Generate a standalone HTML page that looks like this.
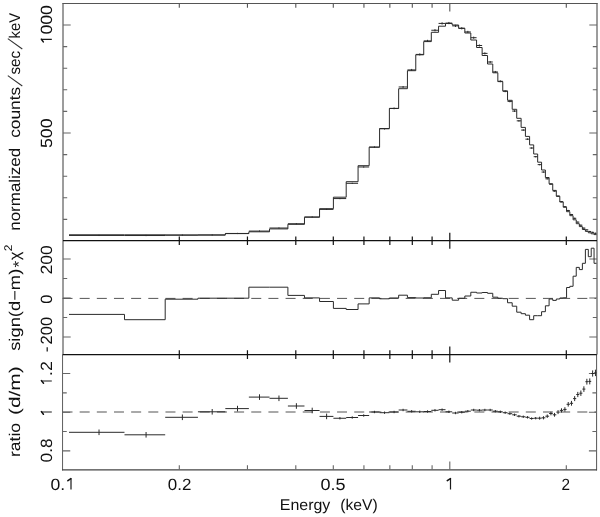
<!DOCTYPE html><html><head><meta charset="utf-8"><style>html,body{margin:0;padding:0;background:#fff;}svg{display:block;will-change:transform;}text{font-family:"Liberation Sans",sans-serif;fill:#111;text-rendering:geometricPrecision;}</style></head><body>
<svg width="600" height="517" viewBox="0 0 600 517">
<rect width="600" height="517" fill="#fff"/>
<path d="M63 3 V354.6" stroke="#3a3a3a" stroke-width="1" fill="none"/>
<path d="M62.55 354.6 V470.4" stroke="#5e5e5e" stroke-width="1" fill="none"/>
<path d="M597 3 V354.6" stroke="#3a3a3a" stroke-width="1" fill="none"/>
<path d="M596.6 354.6 V470.4" stroke="#555" stroke-width="1" fill="none"/>
<path d="M62.5 3.5 H597.5" stroke="#555" stroke-width="1.1" fill="none"/>
<path d="M62 469.9 H597" stroke="#444" stroke-width="1.3" fill="none"/>
<g stroke="#111" stroke-width="1.2"><path d="M63 240.7 H597 M62.6 354.6 H596.8"/></g>
<path d="M179.3 3.5 V7.8 M247.45 3.5 V7.8 M295.8 3.5 V7.8 M333.3 3.5 V7.8 M363.94 3.5 V7.8 M389.85 3.5 V7.8 M412.3 3.5 V7.8 M432.09 3.5 V7.8 M449.8 3.5 V11.5 M566.3 3.5 V7.8 " stroke="#555" stroke-width="1.1" fill="none"/>
<path d="M179.3 240.7 V236.4 M247.45 240.7 V236.4 M295.8 240.7 V236.4 M333.3 240.7 V236.4 M363.94 240.7 V236.4 M389.85 240.7 V236.4 M412.3 240.7 V236.4 M432.09 240.7 V236.4 M449.8 240.7 V232.7 M566.3 240.7 V236.4 " stroke="#111" stroke-width="1.2" fill="none"/>
<path d="M179.3 240.7 V245 M247.45 240.7 V245 M295.8 240.7 V245 M333.3 240.7 V245 M363.94 240.7 V245 M389.85 240.7 V245 M412.3 240.7 V245 M432.09 240.7 V245 M449.8 240.7 V248.7 M566.3 240.7 V245 " stroke="#111" stroke-width="1.2" fill="none"/>
<path d="M179.3 354.6 V350.3 M247.45 354.6 V350.3 M295.8 354.6 V350.3 M333.3 354.6 V350.3 M363.94 354.6 V350.3 M389.85 354.6 V350.3 M412.3 354.6 V350.3 M432.09 354.6 V350.3 M449.8 354.6 V346.6 M566.3 354.6 V350.3 " stroke="#111" stroke-width="1.2" fill="none"/>
<path d="M179.3 354.6 V358.9 M247.45 354.6 V358.9 M295.8 354.6 V358.9 M333.3 354.6 V358.9 M363.94 354.6 V358.9 M389.85 354.6 V358.9 M412.3 354.6 V358.9 M432.09 354.6 V358.9 M449.8 354.6 V362.6 M566.3 354.6 V358.9 " stroke="#111" stroke-width="1.2" fill="none"/>
<path d="M179.3 469.5 V465.2 M247.45 469.5 V465.2 M295.8 469.5 V465.2 M333.3 469.5 V465.2 M363.94 469.5 V465.2 M389.85 469.5 V465.2 M412.3 469.5 V465.2 M432.09 469.5 V465.2 M449.8 469.5 V461.5 M566.3 469.5 V465.2 " stroke="#666" stroke-width="1.1" fill="none"/>
<path d="M63 133 h7.7 M597 133 h-7.7 M63 25 h7.7 M597 25 h-7.7 M63 219.4 h4.2 M597 219.4 h-4.2 M63 197.8 h4.2 M597 197.8 h-4.2 M63 176.2 h4.2 M597 176.2 h-4.2 M63 154.6 h4.2 M597 154.6 h-4.2 M63 111.4 h4.2 M597 111.4 h-4.2 M63 89.8 h4.2 M597 89.8 h-4.2 M63 68.2 h4.2 M597 68.2 h-4.2 M63 46.6 h4.2 M597 46.6 h-4.2 " stroke="#666" stroke-width="1.1" fill="none"/>
<path d="M63 259 h7.7 M597 259 h-7.7 M63 298 h7.7 M597 298 h-7.7 M63 337 h7.7 M597 337 h-7.7 M63 278.5 h4.2 M597 278.5 h-4.2 M63 317.5 h4.2 M597 317.5 h-4.2 " stroke="#666" stroke-width="1.1" fill="none"/>
<path d="M62.55 373.5 h7.7 M596.6 373.5 h-7.7 M62.55 412.2 h7.7 M596.6 412.2 h-7.7 M62.55 450.9 h7.7 M596.6 450.9 h-7.7 M62.55 392.85 h4.2 M596.6 392.85 h-4.2 M62.55 431.55 h4.2 M596.6 431.55 h-4.2 " stroke="#666" stroke-width="1.1" fill="none"/>
<path d="M62.5 298.4 H596" stroke="#555" stroke-width="1.0" stroke-dasharray="10 7.16" fill="none"/>
<path d="M62.5 412.0 H596" stroke="#555" stroke-width="1.2" stroke-dasharray="10 7.16" fill="none"/>
<path d="M69 234.8 H124.49 V234.8 H165.19 V235 H197.93 V235 H225.32 V233.6 H248.87 V231.8 H269.52 V228.9 H287.9 V224.3 H304.48 V217.2 H319.56 V208.7 H333.4 V197.2 H346.19 V181.7 H358.07 V165.7 H369.17 V147.2 H379.58 V128.5 H389.38 V108.5 H398.65 V88.7 H407.43 V70.7 H415.77 V54.8 H423.72 V41.6 H431.31 V32.3 H438.57 V26.2 H445.53 V23.5 H452.21 V25 H458.64 V28.3 H464.83 V33 H470.8 V40 H476.57 V47.5 H482.14 V55.5 H487.54 V64 H492.77 V72.8 H497.84 V81.6 H502.76 V90.9 H507.54 V100.3 H512.19 V109.3 H516.72 V118.3 H521.12 V127.4 H525.42 V136.4 H529.6 V144.9 H533.69 V154 H537.67 V162.2 H541.57 V170 H545.38 V177.5 H549.1 V183.8 H552.74 V190.4 H556.31 V196.2 H559.8 V202 H563.22 V207.2 H566.57 V211.7 H569.85 V215.7 H573.08 V219.8 H576.24 V223.7 H579.34 V226.6 H582.39 V229.5 H585.38 V231.4 H588.32 V232.8 H591.21 V233.8 H594.06 V234.6 H596.5" stroke="#2a2a2a" stroke-width="1.0" fill="none"/>
<path d="M69 235.44 H124.49 M99.03 234.84 V236.04 M124.49 235.52 H165.19 M146.07 234.92 V236.12 M165.19 235.16 H197.93 M182.36 234.56 V235.76 M197.93 234.99 H225.32 M212.19 234.39 V235.59 M225.32 233.46 H248.87 M237.51 232.86 V234.06 M248.87 231.08 H269.52 M259.51 230.48 V231.68 M269.52 228.03 H287.9 M278.96 227.43 V228.63 M287.9 223.76 H304.48 M296.39 223.16 V224.36 M304.48 216.99 H319.56 M312.19 216.39 V217.59 M319.56 209.4 H333.4 M326.62 208.8 V210 M333.4 198.57 H346.19 M339.92 197.97 V199.17 M346.19 183.32 H358.07 M352.24 182.72 V183.92 M358.07 166.98 H369.17 M363.71 166.33 V167.64 M369.17 147.1 H379.58 M374.46 146.37 V147.83 M379.58 128.79 H389.38 M384.55 127.99 V129.59 M389.38 108.36 H398.65 M394.08 107.5 V109.23 M398.65 86.97 H407.43 M403.09 86.04 V87.9 M407.43 69.91 H415.77 M411.65 68.93 V70.89 M415.77 54.42 H423.72 M419.79 53.39 V55.44 M423.72 40.88 H431.31 M427.55 39.82 V41.94 M431.31 30.25 H438.57 M434.98 29.16 V31.34 M438.57 23.42 H445.53 M442.08 22.32 V24.53 M445.53 23.05 H452.21 M448.9 21.94 V24.16 M452.21 25.89 H458.64 M455.46 24.79 V27 M458.64 28.3 H464.83 M461.76 27.2 V29.4 M464.83 31.93 H470.8 M467.84 30.84 V33.01 M470.8 37.71 H476.57 M473.71 36.65 V38.78 M476.57 45.5 H482.14 M479.38 44.45 V46.55 M482.14 53.39 H487.54 M484.86 52.37 V54.42 M487.54 61.99 H492.77 M490.17 60.99 V62.99 M492.77 71.93 H497.84 M495.32 70.95 V72.91 M497.84 81.27 H502.76 M500.32 80.32 V82.22 M502.76 91.29 H507.54 M505.17 90.37 V92.21 M507.54 101.39 H512.19 M509.88 100.5 V102.28 M512.19 111.07 H516.72 M514.47 110.21 V111.93 M516.72 120.84 H521.12 M518.93 120 V121.67 M521.12 130.07 H525.42 M523.28 129.27 V130.87 M525.42 139.16 H529.6 M527.52 138.39 V139.93 M529.6 148.03 H533.69 M531.66 147.29 V148.77 M533.69 156.7 H537.67 M535.69 156 V157.4 M537.67 164.64 H541.57 M539.63 163.97 V165.31 M541.57 172.05 H545.38 M543.48 171.42 V172.69 M545.38 178.81 H549.1 M547.25 178.21 V179.41 M549.1 184.18 H552.74 M550.93 183.58 V184.78 M552.74 191.08 H556.31 M554.53 190.48 V191.68 M556.31 196.18 H559.8 M558.06 195.58 V196.78 M559.8 201.64 H563.22 M561.51 201.04 V202.24 M563.22 206.71 H566.57 M564.9 206.11 V207.31 M566.57 210.5 H569.85 M568.22 209.9 V211.1 M569.85 214.54 H573.08 M571.47 213.94 V215.14 M573.08 218.31 H576.24 M574.66 217.71 V218.91 M576.24 222.12 H579.34 M577.8 221.52 V222.72 M579.34 225.19 H582.39 M580.87 224.59 V225.79 M582.39 228.13 H585.38 M583.89 227.53 V228.73 M585.38 229.89 H588.32 M586.86 229.29 V230.49 M588.32 231.49 H591.21 M589.78 230.89 V232.09 M591.21 232.36 H594.06 M592.64 231.76 V232.96 M594.06 233.3 H596.5 M595.46 232.7 V233.9 " stroke="#2a2a2a" stroke-width="1" fill="none"/>
<path d="M69 314.4 H124.49 V319.7 H165.19 V299.2 H197.93 V298.2 H225.32 V298.2 H248.87 V287.2 H269.52 V287.2 H287.9 V295.4 H304.48 V297.9 H319.56 V301.5 H333.4 V308.4 H346.19 V309.5 H358.07 V303.9 H369.17 V297.9 H379.58 V298.8 H389.38 V298 H398.65 V295.2 H407.43 V297.6 H415.77 V298 H423.72 V297.75 H431.31 V294.3 H438.57 V290.5 H445.53 V297.9 H452.21 V300.2 H458.64 V298.25 H464.83 V296 H470.8 V292.25 H476.57 V293 H482.14 V292.5 H487.54 V293.3 H492.77 V297.2 H497.84 V298.25 H502.76 V298.7 H507.54 V302.75 H512.19 V306.2 H516.72 V312.2 H521.12 V313.7 H525.42 V315.2 H529.6 V319.7 H533.69 V315.7 H537.67 V315.7 H541.57 V311.7 H545.38 V305.8 H549.1 V299 H552.74 V300.4 H556.31 V299 H559.8 V298 H563.22 V297.8 H566.57 V287.5 H569.85 V286.3 H573.08 V276.2 H576.24 V267.4 H579.34 V269.6 H582.39 V263.3 H585.38 V249.4 H588.32 V256.7 H591.21 V248.2 H594.06 V263.3 H596.5" stroke="#2a2a2a" stroke-width="1.0" fill="none"/>
<path d="M69 432.3 H124.49 M99.03 429.5 V435.1 M124.49 434.8 H165.19 M146.07 432 V437.6 M165.19 417.3 H197.93 M182.36 414.5 V420.1 M197.93 411.8 H225.32 M212.19 409 V414.6 M225.32 408.6 H248.87 M237.51 405.8 V411.4 M248.87 397.1 H269.52 M259.51 394.3 V399.9 M269.52 398.3 H287.9 M278.96 395.5 V401.1 M287.9 406 H304.48 M296.39 403.2 V408.8 M304.48 410.5 H319.56 M312.19 407.7 V413.3 M319.56 416.4 H333.4 M326.62 413.6 V419.2 M333.4 418.25 H346.19 M339.92 417.05 V419.45 M346.19 417.5 H358.07 M352.24 416.3 V418.7 M358.07 415.5 H369.17 M363.71 414.3 V416.7 M369.17 412 H379.58 M374.46 410.8 V413.2 M379.58 412.7 H389.38 M384.55 411.5 V413.9 M389.38 412 H398.65 M394.08 410.8 V413.2 M398.65 410 H407.43 M403.09 408.8 V411.2 M407.43 411.3 H415.77 M411.65 410.1 V412.5 M415.77 411.8 H423.72 M419.79 410.6 V413 M423.72 411.5 H431.31 M427.55 410.3 V412.7 M431.31 410.3 H438.57 M434.98 409.1 V411.5 M438.57 409.7 H445.53 M442.08 408.5 V410.9 M445.53 411.8 H452.21 M448.9 410.6 V413 M452.21 413 H458.64 M455.46 411.8 V414.2 M458.64 412.2 H464.83 M461.76 411 V413.4 M464.83 411.2 H470.8 M467.84 410 V412.4 M470.8 410 H476.57 M473.71 408.8 V411.2 M476.57 410.2 H482.14 M479.38 409 V411.4 M482.14 410 H487.54 M484.86 408.8 V411.2 M487.54 410 H492.77 M490.17 408.8 V411.2 M492.77 411.2 H497.84 M495.32 410 V412.4 M497.84 411.8 H502.76 M500.32 410.6 V413 M502.76 412.7 H507.54 M505.17 411.5 V413.9 M507.54 413.7 H512.19 M509.88 412.5 V414.9 M512.19 414.8 H516.72 M514.47 413.6 V416 M516.72 416.2 H521.12 M518.93 415 V417.4 M521.12 416.75 H525.42 M523.28 415.55 V417.95 M525.42 417.3 H529.6 M527.52 416.1 V418.5 M529.6 418.5 H533.69 M531.66 417.3 V419.7 M533.69 418.2 H537.67 M535.69 417 V419.4 M537.67 418.2 H541.57 M539.63 416.7 V419.7 M541.57 417.8 H545.38 M543.48 416.2 V419.4 M545.38 416.2 H549.1 M547.25 414.5 V417.9 M549.1 413.5 H552.74 M550.93 411.7 V415.3 M552.74 414.8 H556.31 M554.53 412.9 V416.7 M556.31 412.1 H559.8 M558.06 410.1 V414.1 M559.8 410.4 H563.22 M561.51 408.3 V412.5 M563.22 409.4 H566.57 M564.9 407.2 V411.6 M566.57 404.3 H569.85 M568.22 402 V406.6 M569.85 403.3 H573.08 M571.47 400.9 V405.7 M573.08 398.6 H576.24 M574.66 396.1 V401.1 M576.24 394.5 H579.34 M577.8 391.9 V397.1 M579.34 393.2 H582.39 M580.87 390.5 V395.9 M582.39 389.1 H585.38 M583.89 386.3 V391.9 M585.38 381.7 H588.32 M586.86 378.8 V384.6 M588.32 381.4 H591.21 M589.78 378.4 V384.4 M591.21 373.5 H594.06 M592.64 370.4 V376.6 M594.06 372.9 H596.5 M595.46 369.7 V376.1 " stroke="#2a2a2a" stroke-width="1.0" fill="none"/>
<text x="50.4" y="489.5" font-size="16.3" textLength="14.68" lengthAdjust="spacingAndGlyphs">0.</text>
<text x="167.8" y="489.5" font-size="16.3" textLength="23.55" lengthAdjust="spacingAndGlyphs">0.2</text>
<text x="320.4" y="489.5" font-size="16.3" textLength="25.07" lengthAdjust="spacingAndGlyphs">0.5</text>
<text x="561.6" y="489.5" font-size="16.3" textLength="8.51" lengthAdjust="spacingAndGlyphs">2</text>
<text x="279.8" y="510.2" font-size="15.5" textLength="50.56" lengthAdjust="spacingAndGlyphs" fill="#222">Energy</text>
<text x="340.2" y="510.2" font-size="15.5" textLength="37.55" lengthAdjust="spacingAndGlyphs" fill="#222">(keV)</text>
<text transform="translate(52 34.6) rotate(-90)" font-size="16.3" textLength="29.58" lengthAdjust="spacingAndGlyphs">000</text>
<text transform="translate(52 148) rotate(-90)" font-size="16.3" textLength="29.57" lengthAdjust="spacingAndGlyphs">500</text>
<text transform="translate(52 274.6) rotate(-90)" font-size="16.3" textLength="29.36" lengthAdjust="spacingAndGlyphs">200</text>
<text transform="translate(52 303.8) rotate(-90)" font-size="16.3" textLength="9.08" lengthAdjust="spacingAndGlyphs">0</text>
<text transform="translate(52 344.4) rotate(-90)" font-size="16.3" textLength="27.54" lengthAdjust="spacingAndGlyphs">200</text>
<text transform="translate(52 376) rotate(-90)" font-size="16.3" textLength="14.82" lengthAdjust="spacingAndGlyphs">.2</text>
<text transform="translate(52 462.4) rotate(-90)" font-size="16.3" textLength="24.02" lengthAdjust="spacingAndGlyphs">0.8</text>
<text transform="translate(20 230.8) rotate(-90)" font-size="15.5" textLength="83.03" lengthAdjust="spacingAndGlyphs" fill="#222">normalized</text>
<text transform="translate(20 137.8) rotate(-90)" font-size="15.5" textLength="51.01" lengthAdjust="spacingAndGlyphs" fill="#222">counts</text>
<text transform="translate(20 74.6) rotate(-90)" font-size="15.5" textLength="23.59" lengthAdjust="spacingAndGlyphs" fill="#222">sec</text>
<text transform="translate(20 38.4) rotate(-90)" font-size="15.5" textLength="25.58" lengthAdjust="spacingAndGlyphs" fill="#222">keV</text>
<text transform="translate(20 350.8) rotate(-90)" font-size="15.5" textLength="82.06" lengthAdjust="spacingAndGlyphs" fill="#222">sign(d&#8722;m)</text>
<text transform="translate(24.3 267.6) rotate(-90)" font-size="15.5" textLength="6.69" lengthAdjust="spacingAndGlyphs" fill="#222">*</text>
<text transform="translate(20 260.2) rotate(-90)" font-size="15.5" textLength="8.65" lengthAdjust="spacingAndGlyphs" fill="#222">&#967;</text>
<text transform="translate(12.2 251.2) rotate(-90)" font-size="11.16" textLength="6.69" lengthAdjust="spacingAndGlyphs" fill="#222">2</text>
<text transform="translate(20 457) rotate(-90)" font-size="15.5" textLength="34.08" lengthAdjust="spacingAndGlyphs" fill="#222">ratio</text>
<text transform="translate(20 415) rotate(-90)" font-size="15.5" textLength="48.62" lengthAdjust="spacingAndGlyphs" fill="#222">(d/m)</text>
<path d="M450.5 478.4 V489.6 M41.2 412.0 H51.8 M71.0 478.4 V489.6 M41.2 39.4 H51.8 M41.2 381.0 H51.8" stroke="#1a1a1a" stroke-width="1.2" fill="none"/>
<path d="M450.4 478.6 L447.3 480.7 M41.4 411.6 L43.4 414.3 M70.9 478.6 L67.9 480.7 M41.4 39.2 L43.3 41.9 M41.4 380.6 L43.5 383.2" stroke="#111" stroke-width="1.5" fill="none" stroke-linecap="round"/>
<path d="M47.2 347.3 V351.4" stroke="#1a1a1a" stroke-width="1.25" fill="none"/>
<path d="M22.3 86.0 L7.8 75.6 M22.3 49.0 L7.8 38.6" stroke="#333" stroke-width="1.1" fill="none"/>
</svg></body></html>
